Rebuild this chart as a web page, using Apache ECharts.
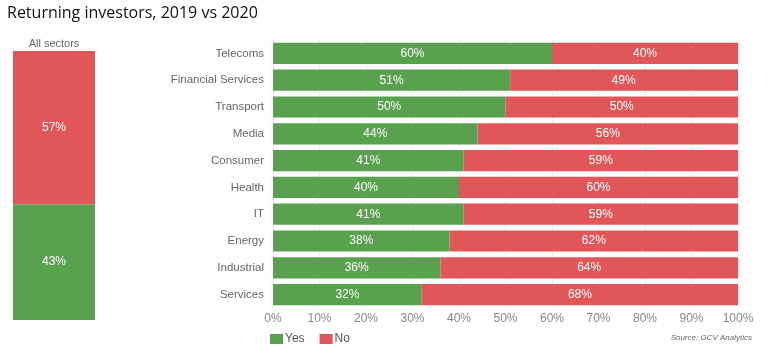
<!DOCTYPE html>
<html>
<head>
<meta charset="utf-8">
<script src="https://cdn.jsdelivr.net/npm/echarts@6/dist/echarts.min.js"></script>
<style>
  html, body { margin: 0; padding: 0; background: #fff; }
  #chart { width: 768px; height: 352px; }
</style>
</head>
<body>
<div id="chart"></div>
<script>
const sectors = ['Telecoms', 'Financial Services', 'Transport', 'Media', 'Consumer', 'Health', 'IT', 'Energy', 'Industrial', 'Services']
const yesValues = [60, 51, 50, 44, 41, 40, 41, 38, 36, 32]
const noValues = [40, 48.8, 50, 56, 59, 60, 59, 62, 64, 68]
const otherValues = [0, 0.2, 0, 0, 0, 0, 0, 0, 0, 0]
const allSectorsYes = [43]
const allSectorsNo = [57]
const tickLabels = ['0%', '10%', '20%', '30%', '40%', '50%', '60%', '70%', '80%', '90%', '100%']

const GREEN = '#59a14f'
const RED = '#e15759'
const BLUE = '#4e79a7'
const FONT = '"Liberation Sans", Arial, sans-serif'

const chart = echarts.init(document.getElementById('chart'))

const barLabel = {
  show: true,
  color: '#fff',
  fontFamily: FONT,
  fontSize: 12,
  formatter: (p) => Math.round(p.value) + '%',
}

const option = {
  animation: false,
  title: [
    {
      text: 'Returning investors, 2019 vs 2020',
      left: 7,
      top: 5,
      padding: 0,
      textStyle: { fontFamily: '"Open Sans", sans-serif', fontSize: 16, fontWeight: 'normal', color: '#111' },
    },
    {
      text: 'All sectors',
      left: 54,
      top: 38,
      padding: 0,
      textAlign: 'center',
      textStyle: { fontFamily: FONT, fontSize: 11, fontWeight: 'normal', color: '#666' },
    },
    {
      text: 'Source: GCV Analytics',
      right: 16,
      top: 334,
      padding: 0,
      textStyle: { fontFamily: FONT, fontSize: 8, fontStyle: 'italic', fontWeight: 'normal', color: '#666' },
    },
  ],
  legend: {
    data: ['Yes', 'No'],
    left: 270,
    top: 333,
    padding: 0,
    icon: 'rect',
    itemWidth: 13,
    itemHeight: 10,
    itemGap: 15,
    textStyle: { fontFamily: FONT, fontSize: 12, color: '#555', padding: [0, 0, 0, -3] },
  },
  grid: [
    { left: 273, right: 30, top: 40, bottom: 44 },
    { left: 13, width: 82, top: 51, bottom: 32 },
  ],
  xAxis: [
    {
      type: 'value',
      gridIndex: 0,
      min: 0,
      max: 100,
      interval: 10,
      axisLine: { show: false },
      axisTick: { show: false },
      splitLine: { show: true, lineStyle: { color: '#eeeeee' } },
      axisLabel: {
        color: '#888',
        fontFamily: FONT,
        fontSize: 12,
        margin: 5,
        formatter: (v) => tickLabels[Math.round(v / 10)],
      },
    },
    {
      type: 'category',
      gridIndex: 1,
      data: ['All sectors'],
      show: false,
    },
  ],
  yAxis: [
    {
      type: 'category',
      gridIndex: 0,
      data: sectors,
      inverse: true,
      axisLine: { show: false },
      axisTick: { show: false },
      axisLabel: { color: '#666', fontFamily: FONT, fontSize: 11.5, margin: 9 },
    },
    {
      type: 'value',
      gridIndex: 1,
      min: 0,
      max: 100,
      show: false,
    },
  ],
  series: [
    {
      name: 'Yes',
      type: 'bar',
      stack: 'sectors',
      xAxisIndex: 0,
      yAxisIndex: 0,
      barWidth: '79%',
      data: yesValues,
      itemStyle: { color: GREEN },
      label: barLabel,
    },
    {
      name: 'No',
      type: 'bar',
      stack: 'sectors',
      xAxisIndex: 0,
      yAxisIndex: 0,
      data: noValues,
      itemStyle: { color: RED },
      label: barLabel,
    },
    {
      name: 'Other',
      type: 'bar',
      stack: 'sectors',
      xAxisIndex: 0,
      yAxisIndex: 0,
      data: otherValues,
      itemStyle: { color: BLUE },
    },
    {
      name: 'Yes',
      type: 'bar',
      stack: 'all',
      xAxisIndex: 1,
      yAxisIndex: 1,
      barWidth: '100%',
      data: allSectorsYes,
      itemStyle: { color: GREEN },
      label: barLabel,
    },
    {
      name: 'No',
      type: 'bar',
      stack: 'all',
      xAxisIndex: 1,
      yAxisIndex: 1,
      data: allSectorsNo,
      itemStyle: { color: RED },
      label: barLabel,
    },
  ],
}

chart.setOption(option)
</script>
</body>
</html>
